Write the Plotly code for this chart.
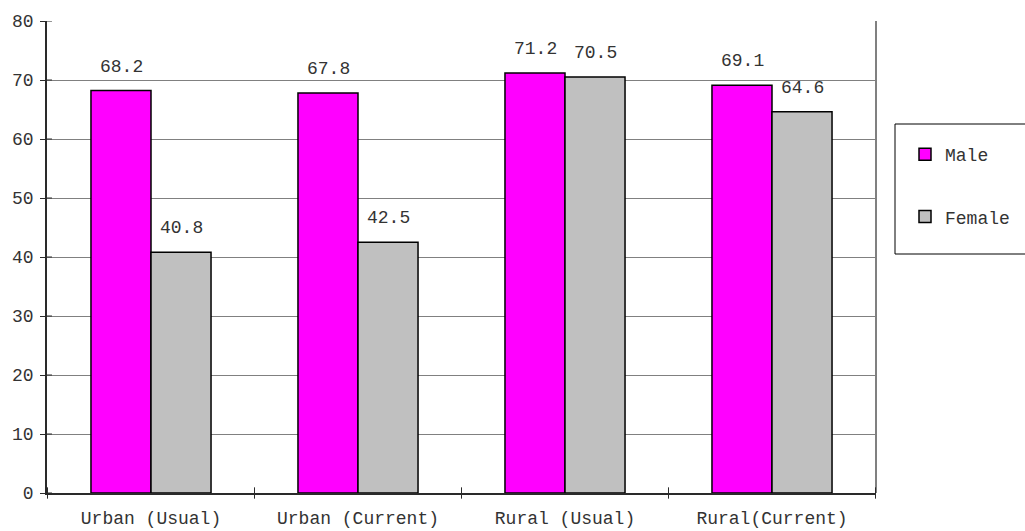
import plotly.graph_objects as go

categories = ["Urban (Usual)", "Urban (Current)", "Rural (Usual)", "Rural(Current)"]
male = [68.2, 67.8, 71.2, 69.1]
female = [40.8, 42.5, 70.5, 64.6]
y_ticks = [0, 10, 20, 30, 40, 50, 60, 70, 80]

FONT = "Liberation Mono, Courier New, monospace"
TEXT = "#333333"
AXIS = "#2a2a2a"
FS = 18

fig = go.Figure()
fig.add_trace(go.Bar(
    name="Male", x=categories, y=male, legendgroup="m",
    marker=dict(color="#FF00FF", line=dict(color="#000000", width=1.5)),
))
fig.add_trace(go.Bar(
    name="Female", x=categories, y=female, legendgroup="f",
    marker=dict(color="#C0C0C0", line=dict(color="#000000", width=1.5)),
))

# value labels above each bar
for cat, m, f in zip(categories, male, female):
    for val, shift in ((m, -30), (f, 30)):
        fig.add_annotation(
            x=cat, y=val, xref="x", yref="y", text=f"{val:.1f}",
            showarrow=False, xshift=shift, yshift=12, yanchor="bottom",
            font=dict(family=FONT, size=FS, color=TEXT),
        )

# right-hand border of the plot area
fig.add_shape(type="line", xref="paper", yref="paper", x0=1, x1=1, y0=0, y1=1,
              line=dict(color="#808080", width=2))

# legend frame
fig.add_shape(type="rect", xref="paper", yref="paper",
              x0=(895 - 47) / 829, x1=(1040 - 47) / 829,
              y0=(493 - 254) / 472, y1=(493 - 124) / 472,
              line=dict(color="#000000", width=1), fillcolor="white", layer="below")

fig.update_layout(
    width=1025, height=531,
    margin=dict(l=47, r=149, t=21, b=38, autoexpand=False),
    paper_bgcolor="white", plot_bgcolor="white",
    barmode="group", bargap=0.42, bargroupgap=0,
    font=dict(family=FONT, size=FS, color=TEXT),
    showlegend=True,
    legend=dict(
        x=(905 - 47) / 829, xanchor="left", y=(493 - 136) / 472, yanchor="top",
        borderwidth=0, bgcolor="rgba(0,0,0,0)",
        traceorder="grouped", tracegroupgap=36,
        font=dict(family=FONT, size=FS, color=TEXT),
        itemwidth=30,
    ),
    xaxis=dict(
        showline=True, linecolor=AXIS, linewidth=1.5,
        ticks="", showgrid=False, ticklabelstandoff=8, automargin=False,
        tickfont=dict(family=FONT, size=FS, color=TEXT),
    ),
    yaxis=dict(
        range=[0, 80], tickvals=y_ticks, automargin=False,
        showline=True, linecolor=AXIS, linewidth=1.5,
        ticks="outside", ticklen=5, tickcolor=AXIS, ticklabelstandoff=3,
        showgrid=True, gridcolor="#808080", gridwidth=1,
        zeroline=False,
        tickfont=dict(family=FONT, size=FS, color=TEXT),
    ),
)

# category dividers on the x axis
n = len(categories)
for i in range(n + 1):
    fig.add_shape(type="line", xref="x", yref="paper", x0=i - 0.5, x1=i - 0.5,
                  y0=-0.012, y1=0.012, line=dict(color=AXIS, width=1))

# tick marks crossing into the plot on the y axis
for v in y_ticks:
    fig.add_shape(type="line", xref="paper", yref="y", x0=0, x1=0.006,
                  y0=v, y1=v, line=dict(color=AXIS, width=1))

fig.write_html("out.html")
